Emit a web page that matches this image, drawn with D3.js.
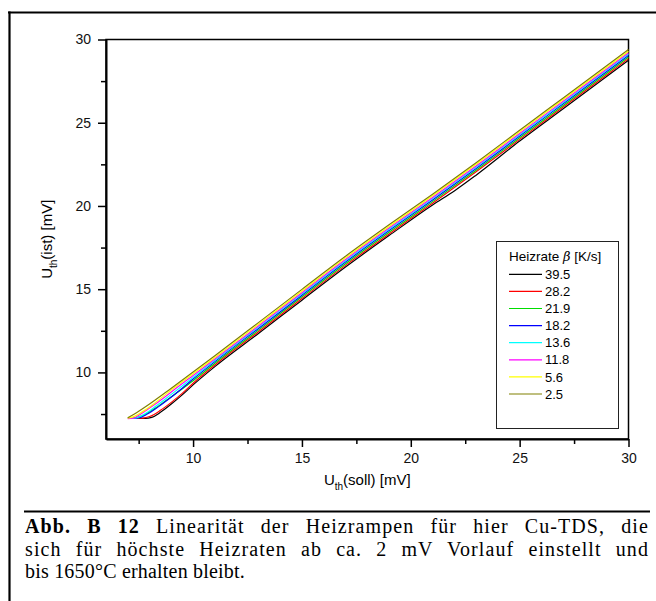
<!DOCTYPE html>
<html>
<head>
<meta charset="utf-8">
<script src="https://d3js.org/d3.v7.min.js"></script>
<style>
    body { margin: 0; background: #fff; }
    text { font-family: "Liberation Sans", Arial, sans-serif; }
    .caption text { font-family: "Liberation Serif", "Times New Roman", serif; }
</style>
</head>
<body>
<div id="chart"></div>
<script>
// Heizraten (legend order) and line colours
var rates = ["39.5", "28.2", "21.9", "18.2", "13.6", "11.8", "5.6", "2.5"];
var colors = ["#000000", "#ff0000", "#00dd00", "#0000ff", "#00ffff", "#ff00ff", "#ffff00", "#808000"];

// U_th(soll) / U_th(ist) in mV, one pair of arrays per heating rate
var soll395 = [7.5, 7.8, 8.1, 8.5, 9.0, 9.5, 10, 11, 13, 15, 17, 19, 21, 22, 23, 25, 27, 30];
var ist395  = [7.24, 7.24, 7.3, 7.6, 8.1, 8.65, 9.25, 10.35, 12.34, 14.34, 16.33, 18.22, 20.06, 20.9, 21.85, 23.9, 25.84, 28.75];
var soll282 = [7.4, 7.7, 8.0, 8.5, 9.0, 9.5, 10, 11, 13, 15, 17, 19, 21, 23, 25, 27, 30];
var ist282  = [7.25, 7.26, 7.35, 7.72, 8.2, 8.74, 9.35, 10.45, 12.44, 14.44, 16.43, 18.32, 20.16, 22.05, 24.0, 25.94, 28.85];
var soll219 = [7.0, 7.3, 7.7, 8.2, 8.7, 9.3, 10, 11, 13, 15, 17, 19, 21, 23, 25, 27, 30];
var ist219  = [7.25, 7.27, 7.42, 7.8, 8.25, 8.82, 9.5, 10.55, 12.54, 14.54, 16.53, 18.42, 20.26, 22.15, 24.1, 26.04, 28.95];
var soll182 = [7.25, 7.5, 7.9, 8.4, 9.0, 9.5, 10, 11, 13, 15, 17, 19, 21, 23, 25, 27, 30];
var ist182  = [7.25, 7.27, 7.5, 7.93, 8.52, 9.05, 9.6, 10.65, 12.64, 14.64, 16.63, 18.52, 20.36, 22.25, 24.2, 26.14, 29.05];
var soll136 = [7.2, 7.45, 7.8, 8.3, 9.0, 10, 11, 13, 15, 17, 19, 21, 23, 25, 27, 30];
var ist136  = [7.25, 7.29, 7.52, 7.98, 8.68, 9.7, 10.73, 12.72, 14.72, 16.71, 18.6, 20.44, 22.33, 24.28, 26.22, 29.13];
var soll118 = [7.0, 7.25, 7.6, 8.1, 8.6, 9.2, 10, 11, 13, 15, 17, 19, 21, 23, 25, 27, 30];
var ist118  = [7.22, 7.25, 7.5, 7.95, 8.42, 9.03, 9.82, 10.8, 12.79, 14.79, 16.78, 18.67, 20.51, 22.4, 24.35, 26.29, 29.2];
var soll56  = [7.0, 7.3, 7.7, 8.2, 9.0, 10, 11, 13, 15, 17, 19, 21, 23, 25, 27, 30];
var ist56   = [7.25, 7.36, 7.66, 8.12, 8.95, 9.92, 10.9, 12.89, 14.89, 16.88, 18.77, 20.61, 22.5, 24.45, 26.39, 29.3];
var soll25  = [7.0, 7.4, 8.0, 9.0, 10, 11, 13, 15, 17, 19, 21, 23, 25, 27, 30];
var ist25   = [7.27, 7.58, 8.1, 9.05, 10.02, 11.0, 12.99, 14.99, 16.98, 18.87, 20.71, 22.6, 24.55, 26.49, 29.4];

var sollSeries = [soll395, soll282, soll219, soll182, soll136, soll118, soll56, soll25];
var istSeries = [ist395, ist282, ist219, ist182, ist136, ist118, ist56, ist25];

var majorTicks = [10, 15, 20, 25, 30];
var minorTicks = [7.5, 12.5, 17.5, 22.5, 27.5];

var captionLines = [
    ["Abb. B 12", " Linearität der Heizrampen für hier Cu-TDS, die"],
    ["", "sich für höchste Heizraten ab ca. 2 mV Vorlauf einstellt und"],
    ["", "bis 1650°C erhalten bleibt."]
];

function init() {
    var w = 656;
    var h = 601;

    var svg = d3.select("#chart")
        .append("svg")
        .attr("width", w)
        .attr("height", h);

    // page frame (top + left rule)
    svg.append("line")
        .attr("x1", 8).attr("x2", w).attr("y1", 12.5).attr("y2", 12.5)
        .attr("stroke", "#000").attr("stroke-width", 2.2);
    svg.append("line")
        .attr("x1", 9.5).attr("x2", 9.5).attr("y1", 11.5).attr("y2", h)
        .attr("stroke", "#000").attr("stroke-width", 2.2);

    var x = d3.scaleLinear().domain([6, 30]).range([106, 628.5]);
    var y = d3.scaleLinear().domain([6, 30]).range([439, 39.5]);

    // plot frame
    svg.append("rect")
        .attr("x", x(6)).attr("y", y(30))
        .attr("width", x(30) - x(6)).attr("height", y(6) - y(30))
        .attr("fill", "none").attr("stroke", "#000").attr("stroke-width", 1.5);

    // curves
    var line = d3.line()
        .x(function (d) { return x(d[0]); })
        .y(function (d) { return y(d[1]); })
        .curve(d3.curveMonotoneX);

    var series = rates.map(function (r, i) {
        return sollSeries[i].map(function (s, j) { return [s, istSeries[i][j]]; });
    });

    svg.append("g")
        .selectAll("path")
        .data(series)
        .enter()
        .append("path")
        .attr("d", line)
        .attr("fill", "none")
        .attr("stroke", function (d, i) { return colors[i]; })
        .attr("stroke-width", 1.2);

    // axes: labelled major ticks + minor ticks
    svg.append("g")
        .attr("transform", "translate(0," + y(6) + ")")
        .call(d3.axisBottom(x).tickValues(majorTicks).tickSize(8).tickPadding(6).tickSizeOuter(0));
    svg.append("g")
        .attr("transform", "translate(0," + y(6) + ")")
        .call(d3.axisBottom(x).tickValues(minorTicks).tickSize(5).tickFormat("").tickSizeOuter(0))
        .select(".domain").remove();

    svg.append("g")
        .attr("transform", "translate(" + x(6) + ",0)")
        .call(d3.axisLeft(y).tickValues(majorTicks).tickSize(8).tickPadding(7).tickSizeOuter(0));
    svg.append("g")
        .attr("transform", "translate(" + x(6) + ",0)")
        .call(d3.axisLeft(y).tickValues(minorTicks).tickSize(5).tickFormat("").tickSizeOuter(0))
        .select(".domain").remove();

    svg.selectAll(".domain").attr("stroke-width", 2);
    svg.selectAll(".tick line").attr("stroke-width", 1.5);
    svg.selectAll(".tick text")
        .attr("font-family", "Liberation Sans, Arial, sans-serif")
        .attr("font-size", 14)
        .attr("fill", "#111");

    // axis titles
    var xt = svg.append("text")
        .attr("x", (x(6) + x(30)) / 2)
        .attr("y", 485)
        .attr("text-anchor", "middle")
        .attr("font-size", 15);
    xt.append("tspan").text("U");
    xt.append("tspan").attr("font-size", 10).attr("dy", 5).text("th");
    xt.append("tspan").attr("dy", -5).text("(soll) [mV]");

    var yt = svg.append("text")
        .attr("transform", "translate(52," + (y(6) + y(30)) / 2 + ") rotate(-90)")
        .attr("text-anchor", "middle")
        .attr("font-size", 15);
    yt.append("tspan").text("U");
    yt.append("tspan").attr("font-size", 10).attr("dy", 5).text("th");
    yt.append("tspan").attr("dy", -5).text("(ist) [mV]");

    // legend
    var legend = svg.append("g");
    legend.append("rect")
        .attr("x", 496.5).attr("y", 241.5)
        .attr("width", 122).attr("height", 187)
        .attr("fill", "#fff").attr("stroke", "#222").attr("stroke-width", 1);
    var lt = legend.append("text")
        .attr("x", 509).attr("y", 261)
        .attr("font-size", 13.5);
    lt.append("tspan").text("Heizrate ");
    lt.append("tspan").attr("font-style", "italic").attr("font-family", "DejaVu Serif, serif").attr("font-size", 13).text("β");
    lt.append("tspan").text(" [K/s]");

    var items = legend.selectAll(".item")
        .data(rates)
        .enter()
        .append("g")
        .attr("class", "item")
        .attr("transform", function (d, i) { return "translate(0," + (274.3 + i * 17.1) + ")"; });
    items.append("line")
        .attr("x1", 509).attr("x2", 542)
        .attr("stroke", function (d, i) { return colors[i]; })
        .attr("stroke-width", 1.2);
    items.append("text")
        .attr("x", 545).attr("dy", "0.36em")
        .attr("font-size", 13)
        .text(function (d) { return d; });

    // caption, first two lines justified via word-spacing
    var cap = svg.append("g").attr("class", "caption");
    cap.append("line")
        .attr("x1", 24).attr("x2", 650).attr("y1", 511.5).attr("y2", 511.5)
        .attr("stroke", "#000").attr("stroke-width", 2.2);
    captionLines.forEach(function (parts, i) {
        var t = cap.append("text")
            .attr("x", 25)
            .attr("y", 533 + i * 22.5)
            .attr("font-size", 20)
            .attr("letter-spacing", i < 2 ? 1.1 : 0.2)
            .attr("fill", "#000");
        if (parts[0]) {
            t.append("tspan").attr("font-weight", "bold").text(parts[0]);
        }
        t.append("tspan").text(parts[1]);
        if (i < 2) {
            var full = parts[0] + parts[1];
            var gaps = full.split(" ").length - 1;
            var extra = (624 - t.node().getComputedTextLength()) / gaps;
            t.attr("word-spacing", Math.max(0, extra));
        }
    });
}

window.onload = init;
</script>
</body>
</html>
